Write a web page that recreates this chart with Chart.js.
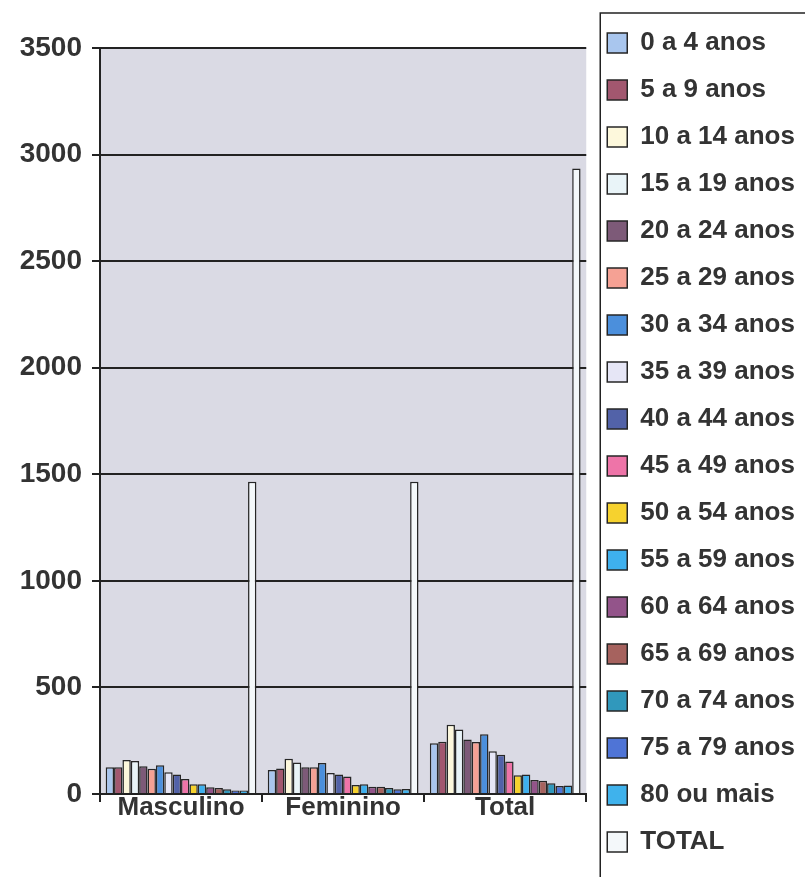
<!DOCTYPE html>
<html lang="pt">
<head>
<meta charset="UTF-8">
<title>População por faixa etária</title>
<script src="https://cdn.jsdelivr.net/npm/chart.js"></script>
<style>
  html, body { margin: 0; padding: 0; background: #ffffff; }
  #wrap { width: 805px; height: 877px; }
</style>
</head>
<body>
<div id="wrap"><canvas id="chart" width="805" height="877"></canvas></div>
<script>
// categorias do eixo x
const categories = ['Masculino', 'Feminino', 'Total'];

// faixas etárias (séries)
const seriesNames = ['0 a 4 anos', '5 a 9 anos', '10 a 14 anos', '15 a 19 anos', '20 a 24 anos',
  '25 a 29 anos', '30 a 34 anos', '35 a 39 anos', '40 a 44 anos', '45 a 49 anos', '50 a 54 anos',
  '55 a 59 anos', '60 a 64 anos', '65 a 69 anos', '70 a 74 anos', '75 a 79 anos', '80 ou mais', 'TOTAL'];

// valores, na ordem das faixas acima
const masculino = [125, 125, 160, 155, 130, 118, 135, 102, 92, 70, 46, 46, 32, 28, 22, 16, 16, 1465];
const feminino = [113, 120, 165, 148, 126, 126, 145, 98, 92, 82, 42, 46, 34, 34, 28, 22, 24, 1465];
const total = [238, 245, 325, 303, 256, 244, 280, 200, 184, 152, 88, 92, 66, 62, 50, 38, 40, 2935];

// marcas do eixo y
const yTicks = [0, 500, 1000, 1500, 2000, 2500, 3000, 3500];

const colors = ['#a9c6ee', '#a2576f', '#fdf8dc', '#e9f4f8', '#7d5a78', '#f5a194', '#4b8fdc', '#e6e6f6',
  '#5262a8', '#ee74a8', '#f6d22e', '#3eb0ee', '#93548a', '#a6625e', '#3098bc', '#4f74d6', '#3fb2ec', '#f4f8fa'];

const FONT = "'Liberation Sans', Arial, sans-serif";

const datasets = seriesNames.map((name, i) => ({
  label: name,
  data: [masculino[i], feminino[i], total[i]],
  backgroundColor: colors[i],
  borderColor: '#262626',
  borderWidth: 1.5,
  categoryPercentage: 0.93,
  barPercentage: 1.0
}));

// fundo cinza da área de plotagem
const plotBg = {
  id: 'plotBg',
  beforeDraw(chart) {
    const { ctx, chartArea: a } = chart;
    ctx.save();
    ctx.fillStyle = '#dadae4';
    ctx.fillRect(a.left, a.top, a.right - a.left, a.bottom - a.top);
    ctx.restore();
  }
};

// legenda um pouco mais larga + moldura
const legendBox = {
  id: 'legendBox',
  beforeUpdate(chart) {
    const lg = chart.legend;
    if (lg && !lg._wider) {
      const fit = lg.fit;
      lg.fit = function () { fit.call(this); this.width += 20; };
      lg._wider = true;
    }
  },
  afterDraw(chart) {
    const lg = chart.legend;
    const ctx = chart.ctx;
    ctx.save();
    ctx.strokeStyle = '#222';
    ctx.lineWidth = 1.5;
    ctx.strokeRect(lg.left + 14, 13, 300, 900);
    ctx.restore();
  }
};

new Chart(document.getElementById('chart'), {
  type: 'bar',
  data: { labels: categories, datasets: datasets },
  options: {
    responsive: false,
    animation: false,
    layout: { padding: { left: 10, top: 9, right: 0, bottom: 0 } },
    plugins: {
      tooltip: { enabled: false },
      legend: {
        position: 'right',
        align: 'start',
        labels: {
          boxWidth: 20,
          boxHeight: 20,
          padding: 21,
          color: '#333',
          font: { family: FONT, size: 26, weight: 'bold' }
        }
      }
    },
    scales: {
      // eixo vazio só para reservar a margem de cima
      top: {
        position: 'top',
        display: true,
        grid: { display: false },
        border: { display: false },
        ticks: { display: false },
        afterFit(scale) { scale.height = 39; }
      },
      x: {
        offset: true,
        grid: { display: true, drawOnChartArea: false, offset: true, color: '#222', lineWidth: 2, tickLength: 8 },
        border: { display: true, color: '#222', width: 2 },
        ticks: { color: '#333', padding: -10, font: { family: FONT, size: 26, weight: 'bold' } },
        afterFit(scale) { scale.height = 83; }
      },
      y: {
        min: 0,
        max: 3500,
        afterBuildTicks(scale) { scale.ticks = yTicks.map(v => ({ value: v })); },
        grid: { color: '#222', lineWidth: 2, tickLength: 8 },
        border: { display: true, color: '#222', width: 2 },
        ticks: {
          color: '#333',
          padding: 10,
          font: { family: FONT, size: 28, weight: 'bold' },
          callback: v => String(v)
        },
        afterFit(scale) { scale.width = 90; }
      }
    }
  },
  plugins: [plotBg, legendBox]
});
</script>
</body>
</html>
